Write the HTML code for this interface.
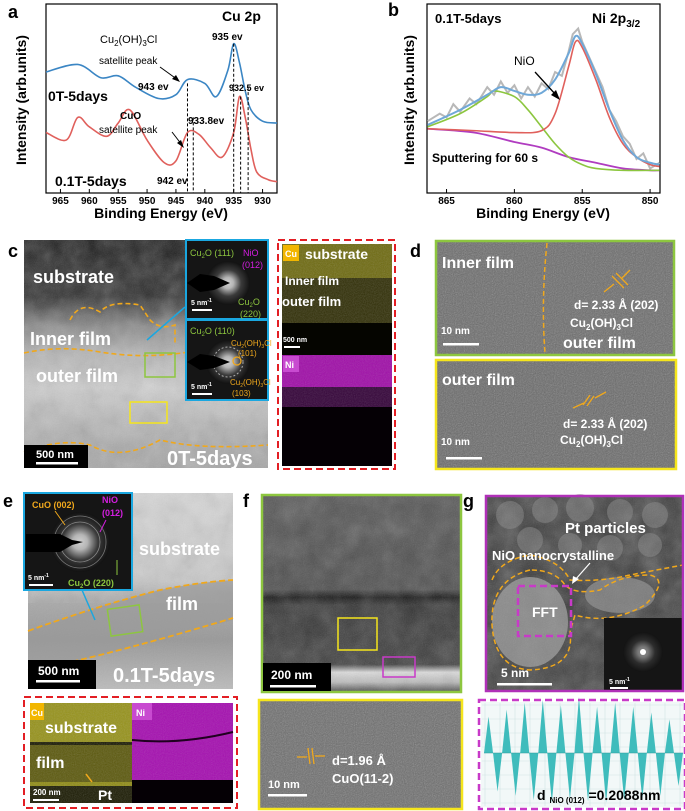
<!DOCTYPE html>
<html><head><meta charset="utf-8">
<style>
html,body{margin:0;padding:0;background:#fff;}
svg{display:block;font-family:"Liberation Sans",Arial,sans-serif;}
.b{font-weight:bold;}
</style></head>
<body>
<svg id="fig" width="685" height="811" viewBox="0 0 685 811" xmlns="http://www.w3.org/2000/svg">
<defs>
  <filter id="noise" x="0" y="0" width="100%" height="100%">
    <feTurbulence type="fractalNoise" baseFrequency="0.9" numOctaves="2" seed="3"/>
    <feColorMatrix type="saturate" values="0"/>
  </filter>
  <filter id="blotch" x="0" y="0" width="100%" height="100%">
    <feTurbulence type="fractalNoise" baseFrequency="0.05" numOctaves="3" seed="7"/>
    <feColorMatrix type="saturate" values="0"/>
  </filter>
  <radialGradient id="glow"><stop offset="0" stop-color="#fff"/><stop offset="0.25" stop-color="#ddd"/><stop offset="0.6" stop-color="#444"/><stop offset="1" stop-color="#111"/></radialGradient>
  <linearGradient id="cgrad" x1="0" y1="0" x2="0" y2="1">
    <stop offset="0" stop-color="#1a1a1a"/><stop offset="0.25" stop-color="#2a2a2a"/><stop offset="0.38" stop-color="#888"/><stop offset="0.5" stop-color="#b5b5b5"/><stop offset="0.65" stop-color="#cfcfcf"/><stop offset="0.85" stop-color="#b0b0b0"/><stop offset="1" stop-color="#a5a5a5"/>
  </linearGradient>
  <linearGradient id="egrad" x1="0" y1="0" x2="0" y2="1">
    <stop offset="0" stop-color="#d8d8d8"/><stop offset="0.45" stop-color="#c8c8c8"/><stop offset="0.55" stop-color="#aaa"/><stop offset="0.75" stop-color="#999"/><stop offset="1" stop-color="#bcbcbc"/>
  </linearGradient>
  <linearGradient id="fgrad" x1="0" y1="0" x2="0" y2="1">
    <stop offset="0" stop-color="#555"/><stop offset="0.48" stop-color="#4a4a4a"/><stop offset="0.52" stop-color="#111"/><stop offset="0.56" stop-color="#333"/><stop offset="0.86" stop-color="#3c3c3c"/><stop offset="0.9" stop-color="#ddd"/><stop offset="0.95" stop-color="#bbb"/><stop offset="1" stop-color="#444"/>
  </linearGradient>
</defs>

<!-- ===== Panel a ===== -->
<g id="panel-a">
  <text x="8" y="18" class="b" font-size="18">a</text>
  <rect x="46" y="4" width="231" height="189" fill="none" stroke="#000" stroke-width="1.2"/>
  <g id="a-ticks"></g>
  <g id="a-lines"></g>
  <text x="26" y="100" class="b" font-size="14" transform="rotate(-90 26 100)" text-anchor="middle">Intensity (arb.units)</text>
  <text x="161" y="218" class="b" font-size="14" text-anchor="middle">Binding Energy (eV)</text>
  <text x="222" y="21" class="b" font-size="14">Cu 2p</text>
  <text x="212" y="40" font-size="10" class="b">935 ev</text>
  <text x="100" y="43" font-size="11">Cu<tspan font-size="8" dy="3">2</tspan><tspan dy="-3">(OH)</tspan><tspan font-size="8" dy="3">3</tspan><tspan dy="-3">Cl</tspan></text>
  <text x="99" y="64" font-size="10">satellite peak</text>
  <text x="138" y="90" font-size="10" class="b">943 ev</text>
  <text x="229" y="91" font-size="9" class="b">932.5 ev</text>
  <text x="48" y="101" font-size="14" class="b">0T-5days</text>
  <text x="120" y="119" font-size="10" class="b">CuO</text>
  <text x="99" y="133" font-size="10">satellite peak</text>
  <text x="188" y="124" font-size="10" class="b">933.8ev</text>
  <text x="55" y="186" font-size="14" class="b">0.1T-5days</text>
  <text x="157" y="184" font-size="10" class="b">942 ev</text>
  <line x1="160" y1="67" x2="178" y2="80" stroke="#000" stroke-width="1"/>
  <polygon points="180,82 172,79 176,75" fill="#000"/>
  <line x1="172" y1="132" x2="182" y2="145" stroke="#000" stroke-width="1"/>
  <polygon points="184,148 177,143 181,140" fill="#000"/>
</g>

<!-- ===== Panel b ===== -->
<g id="panel-b">
  <text x="388" y="16" class="b" font-size="18">b</text>
  <rect x="427" y="4" width="233" height="189" fill="none" stroke="#000" stroke-width="1.2"/>
  <g id="b-ticks"></g>
  <g id="b-lines"></g>
  <text x="414" y="100" class="b" font-size="14" transform="rotate(-90 414 100)" text-anchor="middle">Intensity (arb.units)</text>
  <text x="543" y="218" class="b" font-size="14" text-anchor="middle">Binding Energy (eV)</text>
  <text x="435" y="23" class="b" font-size="13">0.1T-5days</text>
  <text x="592" y="23" class="b" font-size="14">Ni 2p<tspan font-size="10" dy="4">3/2</tspan></text>
  <text x="514" y="65" font-size="12">NiO</text>
  <line x1="535" y1="72" x2="556" y2="95" stroke="#000" stroke-width="1.3"/>
  <polygon points="560,100 551,95 556,90" fill="#000"/>
  <text x="432" y="162" font-size="12" class="b">Sputtering for 60 s</text>
</g>

<!-- ===== Panel c ===== -->
<g id="panel-c">
  <text x="8" y="257" class="b" font-size="18">c</text>
  <rect x="24" y="240" width="244" height="228" fill="url(#cgrad)"/>
  <rect x="24" y="240" width="244" height="228" filter="url(#blotch)" opacity="0.35"/>
  <rect x="24" y="240" width="244" height="228" filter="url(#noise)" opacity="0.15"/>
  <path d="M70,320 Q80,300 100,312 Q110,300 140,305 L150,320 Q160,330 175,325 L175,345" fill="none" stroke="#f0a81c" stroke-width="1.6" stroke-dasharray="5,3"/>
  <path d="M24,353 Q60,345 100,352 Q150,360 200,350 L268,352" fill="none" stroke="#f0a81c" stroke-width="1.6" stroke-dasharray="5,3"/>
  <path d="M24,452 Q60,438 90,445 Q120,462 160,440 Q200,450 268,445" fill="none" stroke="#f0a81c" stroke-width="1.6" stroke-dasharray="5,3"/>
  <text x="33" y="283" fill="#fff" class="b" font-size="18">substrate</text>
  <text x="30" y="345" fill="#fff" class="b" font-size="18">Inner film</text>
  <text x="36" y="382" fill="#fff" class="b" font-size="18">outer film</text>
  <rect x="145" y="353" width="30" height="24" fill="none" stroke="#8dc63f" stroke-width="1.5"/>
  <rect x="130" y="402" width="37" height="21" fill="none" stroke="#f5e51c" stroke-width="1.5"/>
  <line x1="147" y1="340" x2="185" y2="307" stroke="#1aa7e0" stroke-width="1.5"/>
  <rect x="24" y="445" width="64" height="23" fill="#000"/>
  <text x="36" y="458" fill="#fff" class="b" font-size="11">500 nm</text>
  <rect x="36" y="462" width="42" height="2.5" fill="#fff"/>
  <text x="167" y="465" fill="#fff" class="b" font-size="20">0T-5days</text>
  <g>
    <rect x="186" y="240" width="82" height="79" fill="#151515" stroke="#1aa7e0" stroke-width="2"/>
    <circle cx="228" cy="283" r="22" fill="url(#glow)" opacity="0.8"/>
    <polygon points="187,283 200,274 214,276 230,283 214,290 200,292" fill="#000"/>
    <text x="190" y="256" fill="#8dc63f" font-size="9">Cu<tspan font-size="6" dy="2">2</tspan><tspan dy="-2">O (111)</tspan></text>
    <text x="243" y="256" fill="#d41ee0" font-size="9">NiO</text>
    <text x="242" y="268" fill="#d41ee0" font-size="9">(012)</text>
    <text x="238" y="305" fill="#8dc63f" font-size="9">Cu<tspan font-size="6" dy="2">2</tspan><tspan dy="-2">O</tspan></text>
    <text x="240" y="317" fill="#8dc63f" font-size="9">(220)</text>
    <text x="191" y="305" fill="#fff" font-size="7" class="b">5 nm<tspan font-size="5" dy="-3">-1</tspan></text>
    <rect x="192" y="309" width="20" height="2" fill="#fff"/>
  </g>
  <g>
    <rect x="186" y="320" width="82" height="80" fill="#151515" stroke="#1aa7e0" stroke-width="2"/>
    <circle cx="228" cy="362" r="22" fill="url(#glow)" opacity="0.8"/>
    <circle cx="228" cy="362" r="15" fill="none" stroke="#aaa" stroke-dasharray="2,2"/>
    <polygon points="187,362 200,354 214,356 230,362 214,368 200,370" fill="#000"/>
    <circle cx="237" cy="361" r="4" fill="none" stroke="#f0a81c" stroke-width="1.3"/>
    <text x="190" y="334" fill="#8dc63f" font-size="9">Cu<tspan font-size="6" dy="2">2</tspan><tspan dy="-2">O (110)</tspan></text>
    <text x="231" y="346" fill="#f0a81c" font-size="8">Cu<tspan font-size="5" dy="2">2</tspan><tspan dy="-2">(OH)</tspan><tspan font-size="5" dy="2">3</tspan><tspan dy="-2">Cl</tspan></text>
    <text x="238" y="356" fill="#f0a81c" font-size="8">(101)</text>
    <text x="230" y="385" fill="#f0a81c" font-size="8">Cu<tspan font-size="5" dy="2">2</tspan><tspan dy="-2">(OH)</tspan><tspan font-size="5" dy="2">3</tspan><tspan dy="-2">Cl</tspan></text>
    <text x="232" y="396" fill="#f0a81c" font-size="8">(103)</text>
    <text x="191" y="389" fill="#fff" font-size="7" class="b">5 nm<tspan font-size="5" dy="-3">-1</tspan></text>
    <rect x="192" y="393" width="20" height="2" fill="#fff"/>
  </g>
  <g>
    <rect x="278" y="240" width="117" height="229" fill="none" stroke="#e31e24" stroke-width="2" stroke-dasharray="7,4"/>
    <rect x="282" y="244" width="110" height="111" fill="#1f1e04"/>
    <rect x="282" y="244" width="110" height="34" fill="#6e6a10"/>
    <rect x="282" y="278" width="110" height="45" fill="#302e06"/>
    <rect x="282" y="244" width="110" height="111" filter="url(#noise)" opacity="0.25"/>
    <rect x="282" y="323" width="110" height="32" fill="#050500"/>
    <rect x="283" y="245" width="16" height="16" fill="#f2b600"/>
    <text x="285" y="257" fill="#fff" font-size="9" class="b">Cu</text>
    <text x="305" y="259" fill="#fff" font-size="14" class="b">substrate</text>
    <text x="285" y="285" fill="#fff" font-size="12" class="b">Inner film</text>
    <text x="282" y="306" fill="#fff" font-size="13" class="b">outer film</text>
    <text x="283" y="342" fill="#fff" font-size="7" class="b">500 nm</text>
    <rect x="284" y="346" width="16" height="2" fill="#fff"/>
    <rect x="282" y="355" width="110" height="111" fill="#050005"/>
    <rect x="282" y="355" width="110" height="32" fill="#a010a8"/>
    <rect x="282" y="387" width="110" height="20" fill="#35053a"/>
    <rect x="282" y="355" width="110" height="52" filter="url(#noise)" opacity="0.2"/>
    <rect x="283" y="356" width="16" height="16" fill="#c84ad0"/>
    <text x="285" y="368" fill="#fff" font-size="9" class="b">Ni</text>
  </g>
</g>

<!-- ===== Panel d ===== -->
<g id="panel-d">
  <text x="410" y="257" class="b" font-size="18">d</text>
  <rect x="436" y="241" width="238" height="114" fill="#6a6a6a"/>
  <rect x="436" y="241" width="238" height="114" filter="url(#noise)" opacity="0.45"/>
  <rect x="436" y="241" width="238" height="114" fill="none" stroke="#8dc63f" stroke-width="2.5"/>
  <path d="M547,243 Q541,300 545,353" fill="none" stroke="#f0a81c" stroke-width="1.5" stroke-dasharray="5,3"/>
  <text x="442" y="268" fill="#fff" class="b" font-size="16">Inner film</text>
  <g stroke="#f0a81c" stroke-width="1.3"><line x1="612" y1="276" x2="624" y2="288"/><line x1="616" y1="273" x2="628" y2="285"/><line x1="630" y1="270" x2="622" y2="278"/><line x1="604" y1="292" x2="614" y2="284"/></g>
  <text x="574" y="309" fill="#fff" class="b" font-size="12">d= 2.33 Å (202)</text>
  <text x="570" y="327" fill="#fff" class="b" font-size="12">Cu<tspan font-size="8" dy="3">2</tspan><tspan dy="-3">(OH)</tspan><tspan font-size="8" dy="3">3</tspan><tspan dy="-3">Cl</tspan></text>
  <text x="441" y="334" fill="#fff" class="b" font-size="10">10 nm</text>
  <rect x="443" y="343" width="36" height="2.5" fill="#fff"/>
  <text x="563" y="348" fill="#fff" class="b" font-size="16">outer film</text>
  <rect x="436" y="360" width="240" height="109" fill="#686868"/>
  <rect x="436" y="360" width="240" height="109" filter="url(#noise)" opacity="0.45"/>
  <rect x="436" y="360" width="240" height="109" fill="none" stroke="#f5e51c" stroke-width="2.5"/>
  <text x="442" y="385" fill="#fff" class="b" font-size="16">outer film</text>
  <g stroke="#f0a81c" stroke-width="1.3"><line x1="583" y1="405" x2="590" y2="395"/><line x1="587" y1="406" x2="594" y2="396"/><line x1="573" y1="408" x2="584" y2="403"/><line x1="606" y1="392" x2="595" y2="398"/></g>
  <text x="563" y="428" fill="#fff" class="b" font-size="12">d= 2.33 Å (202)</text>
  <text x="560" y="444" fill="#fff" class="b" font-size="12">Cu<tspan font-size="8" dy="3">2</tspan><tspan dy="-3">(OH)</tspan><tspan font-size="8" dy="3">3</tspan><tspan dy="-3">Cl</tspan></text>
  <text x="441" y="445" fill="#fff" class="b" font-size="10">10 nm</text>
  <rect x="446" y="457" width="36" height="2.5" fill="#fff"/>
</g>

<!-- ===== Panel e ===== -->
<g id="panel-e">
  <text x="3" y="507" class="b" font-size="18">e</text>
  <rect x="28" y="493" width="205" height="196" fill="url(#egrad)"/>
  <rect x="28" y="493" width="205" height="110" filter="url(#blotch)" opacity="0.3"/>
  <rect x="28" y="493" width="205" height="196" filter="url(#noise)" opacity="0.12"/>
  <path d="M28,631 Q100,605 160,590 Q200,582 233,580 L233,620 Q160,640 100,655 Q60,665 28,670 Z" fill="#9a9a9a" opacity="0.7"/>
  <path d="M28,631 Q100,605 160,590 Q200,582 233,580" fill="none" stroke="#f0a81c" stroke-width="1.8" stroke-dasharray="6,3"/>
  <path d="M28,670 Q60,665 100,655 Q160,640 233,618" fill="none" stroke="#f0a81c" stroke-width="1.8" stroke-dasharray="6,3"/>
  <text x="139" y="555" fill="#fff" class="b" font-size="18">substrate</text>
  <text x="166" y="610" fill="#fff" class="b" font-size="18">film</text>
  <rect x="109" y="607" width="32" height="27" fill="none" stroke="#8dc63f" stroke-width="1.5" transform="rotate(-8 125 620)"/>
  <line x1="82" y1="590" x2="95" y2="620" stroke="#1aa7e0" stroke-width="1.5"/>
  <rect x="28" y="660" width="68" height="29" fill="#000"/>
  <text x="38" y="675" fill="#fff" class="b" font-size="12">500 nm</text>
  <rect x="36" y="680" width="44" height="2.5" fill="#fff"/>
  <text x="113" y="682" fill="#fff" class="b" font-size="20">0.1T-5days</text>
  <g>
    <rect x="24" y="493" width="108" height="97" fill="#151515" stroke="#1aa7e0" stroke-width="2"/>
    <circle cx="80" cy="542" r="30" fill="url(#glow)" opacity="0.8"/>
    <circle cx="80" cy="542" r="20" fill="none" stroke="#888" stroke-width="0.8"/>
    <circle cx="80" cy="542" r="26" fill="none" stroke="#777" stroke-width="0.8"/>
    <polygon points="26,534 60,534 72,540 83,542 72,545 60,552 26,552" fill="#000"/>
    <text x="32" y="508" fill="#f0a81c" font-size="9" class="b">CuO (002)</text>
    <line x1="55" y1="511" x2="65" y2="525" stroke="#f0a81c" stroke-width="1"/>
    <text x="102" y="503" fill="#d41ee0" font-size="9" class="b">NiO</text>
    <text x="102" y="516" fill="#d41ee0" font-size="9" class="b">(012)</text>
    <line x1="106" y1="520" x2="100" y2="532" stroke="#d41ee0" stroke-width="1"/>
    <text x="68" y="586" fill="#8dc63f" font-size="9" class="b">Cu<tspan font-size="6" dy="2">2</tspan><tspan dy="-2">O (220)</tspan></text>
    <line x1="117" y1="560" x2="117" y2="575" stroke="#8dc63f" stroke-width="1"/>
    <text x="28" y="580" fill="#fff" font-size="7" class="b">5 nm<tspan font-size="5" dy="-3">-1</tspan></text>
    <rect x="29" y="584" width="24" height="2" fill="#fff"/>
  </g>
  <g>
    <rect x="24" y="697" width="213" height="111" fill="none" stroke="#e31e24" stroke-width="2" stroke-dasharray="7,4"/>
    <rect x="30" y="703" width="102" height="100" fill="#1a1a02"/>
    <rect x="30" y="703" width="102" height="39" fill="#96921a"/>
    <rect x="30" y="745" width="102" height="37" fill="#5b580c"/>
    <rect x="30" y="782" width="102" height="4" fill="#8f8b14"/>
    <rect x="30" y="703" width="102" height="100" filter="url(#noise)" opacity="0.25"/>
    <rect x="30" y="703" width="14" height="17" fill="#f2b600"/>
    <text x="31" y="716" fill="#fff" font-size="9" class="b">Cu</text>
    <text x="45" y="733" fill="#fff" class="b" font-size="16">substrate</text>
    <text x="36" y="768" fill="#fff" class="b" font-size="16">film</text>
    <text x="33" y="795" fill="#fff" class="b" font-size="8">200 nm</text>
    <rect x="33" y="799" width="26" height="2" fill="#fff"/>
    <line x1="92" y1="782" x2="86" y2="774" stroke="#f0a81c" stroke-width="1.5"/>
    <text x="98" y="800" fill="#fff" class="b" font-size="14">Pt</text>
    <rect x="132" y="703" width="101" height="100" fill="#050005"/>
    <rect x="132" y="703" width="101" height="77" fill="#a510b0"/>
    <rect x="132" y="703" width="101" height="77" filter="url(#noise)" opacity="0.2"/>
    <path d="M132,740 Q180,745 233,732" fill="none" stroke="#200020" stroke-width="2"/>
    <rect x="132" y="703" width="20" height="17" fill="#c84ad0"/>
    <text x="136" y="716" fill="#fff" font-size="9" class="b">Ni</text>
  </g>
</g>

<!-- ===== Panel f ===== -->
<g id="panel-f">
  <text x="243" y="507" class="b" font-size="18">f</text>
  <rect x="262" y="495" width="199" height="197" fill="url(#fgrad)"/>
  <rect x="262" y="495" width="199" height="197" filter="url(#blotch)" opacity="0.25"/>
  <rect x="262" y="495" width="199" height="197" filter="url(#noise)" opacity="0.18"/>
  <rect x="262" y="495" width="199" height="197" fill="none" stroke="#8dc63f" stroke-width="2.5"/>
  <rect x="338" y="618" width="39" height="32" fill="none" stroke="#f5e51c" stroke-width="1.5"/>
  <rect x="383" y="657" width="32" height="20" fill="none" stroke="#c83ac8" stroke-width="1.5"/>
  <rect x="263" y="663" width="68" height="28" fill="#000"/>
  <text x="271" y="679" fill="#fff" class="b" font-size="12">200 nm</text>
  <rect x="270" y="685" width="46" height="2.5" fill="#fff"/>
  <rect x="259" y="700" width="203" height="109" fill="#6c6c6c"/>
  <rect x="259" y="700" width="203" height="109" filter="url(#noise)" opacity="0.45"/>
  <rect x="259" y="700" width="203" height="109" fill="none" stroke="#f5e51c" stroke-width="2.5"/>
  <g stroke="#f0a81c" stroke-width="1.3"><line x1="308" y1="748" x2="310" y2="764"/><line x1="312" y1="748" x2="314" y2="764"/><line x1="297" y1="757" x2="307" y2="757"/><line x1="315" y1="756" x2="325" y2="756"/></g>
  <text x="332" y="765" fill="#fff" class="b" font-size="13">d=1.96 Å</text>
  <text x="332" y="783" fill="#fff" class="b" font-size="13">CuO(11-2)</text>
  <text x="268" y="788" fill="#fff" class="b" font-size="11">10 nm</text>
  <rect x="268" y="794" width="39" height="2.5" fill="#fff"/>
</g>

<!-- ===== Panel g ===== -->
<g id="panel-g">
  <text x="463" y="507" class="b" font-size="18">g</text>
  <rect x="486" y="496" width="197" height="195" fill="#3d3d3d"/>
  <rect x="486" y="496" width="197" height="195" filter="url(#blotch)" opacity="0.35"/>
  <g fill="#8a8a8a" opacity="0.5"><circle cx="510" cy="515" r="14"/><circle cx="545" cy="510" r="13"/><circle cx="580" cy="508" r="14"/><circle cx="620" cy="512" r="13"/><circle cx="655" cy="515" r="13"/><circle cx="530" cy="540" r="13"/><circle cx="570" cy="545" r="12"/><circle cx="610" cy="548" r="13"/><circle cx="650" cy="545" r="12"/></g>
  <ellipse cx="530" cy="622" rx="38" ry="45" fill="#9a9a9a" opacity="0.8"/>
  <ellipse cx="620" cy="595" rx="35" ry="18" fill="#8a8a8a" opacity="0.8"/>
  <rect x="486" y="496" width="197" height="195" filter="url(#noise)" opacity="0.15"/>
  <path d="M492,580 Q500,560 530,555 Q560,560 570,580 Q600,582 630,575 L683,565" fill="none" stroke="#f0a81c" stroke-width="1.5" stroke-dasharray="5,3"/>
  <path d="M530,570 Q490,580 492,625 Q495,668 530,670 Q575,668 570,632 L575,615 Q610,625 645,605 Q670,580 650,575 Q620,575 600,590 Q575,595 565,585 Q555,570 530,570" fill="none" stroke="#f0a81c" stroke-width="1.5" stroke-dasharray="5,3"/>
  <rect x="518" y="586" width="53" height="50" fill="none" stroke="#c83ac8" stroke-width="2.5" stroke-dasharray="7,4"/>
  <text x="532" y="617" fill="#fff" class="b" font-size="14">FFT</text>
  <text x="565" y="533" fill="#fff" class="b" font-size="15">Pt particles</text>
  <text x="492" y="560" fill="#fff" class="b" font-size="13">NiO nanocrystalline</text>
  <line x1="590" y1="563" x2="575" y2="580" stroke="#fff" stroke-width="1.2"/>
  <polygon points="572,584 573,576 579,579" fill="#fff"/>
  <rect x="604" y="618" width="78" height="72" fill="#151515"/>
  <circle cx="643" cy="652" r="20" fill="url(#glow)" opacity="0.5"/>
  <circle cx="643" cy="652" r="3" fill="#fff"/>
  <text x="609" y="684" fill="#fff" font-size="7" class="b">5 nm<tspan font-size="5" dy="-3">-1</tspan></text>
  <rect x="610" y="687" width="18" height="2" fill="#fff"/>
  <text x="501" y="677" fill="#fff" class="b" font-size="12">5 nm</text>
  <rect x="497" y="683" width="55" height="2.5" fill="#fff"/>
  <rect x="486" y="496" width="197" height="195" fill="none" stroke="#b030b8" stroke-width="2.5"/>
  <rect x="481" y="702" width="203" height="105" fill="#f2f8f8"/>
  <g id="g-grid" stroke="#cfe3e3" stroke-width="0.6"></g>
  <g id="g-profile"></g>
  <rect x="479" y="700" width="206" height="109" fill="none" stroke="#c83ac8" stroke-width="2.5" stroke-dasharray="7,4"/>
  <text x="537" y="800" class="b" font-size="14">d <tspan font-size="8" dy="3">NiO  (012)</tspan><tspan dy="-3"> =0.2088nm</tspan></text>
</g>
</svg>

<script>
// ---------- Panel a data ----------
const aTicks = [965, 960, 955, 950, 945, 940, 935, 930];
const aBlueE = [967.5, 962, 958, 955, 952, 948, 945, 943, 940, 938, 936, 935, 934, 933, 932, 930, 927.5];
const aBlueV = [64, 68, 61, 62, 56, 50, 52, 60, 58, 51, 65, 79, 69, 54, 44, 38, 37];
const aRedE = [967.5, 964, 962, 960, 957, 955, 953, 950, 947, 945, 943, 941, 939, 937, 935, 934, 933, 932, 931, 929, 927.5];
const aRedV = [32, 28, 40, 35, 30, 37, 44, 28, 16, 17, 32, 31, 24, 19, 32, 51, 40, 23, 11, 7, 6];
const aDashE = [943, 942, 935, 933.8, 932.5];
const aDashTop = [58, 40, 79, 51, 56];
// ---------- Panel b data ----------
const bTicks = [865, 860, 855, 850];
const bGrayE = [866.4, 865.5, 865, 864.5, 864, 863.3, 862.8, 862, 861.5, 861, 860.5, 860, 859.5, 859, 858.5, 858, 857.5, 857, 856.5, 856, 855.7, 855.3, 855, 854.5, 854, 853.5, 853, 852.5, 852, 851.5, 851, 850.5, 850, 849.3];
const bGrayV = [38, 42, 40, 47, 43, 50, 47, 56, 52, 59, 53, 57, 50, 56, 51, 58, 55, 64, 62, 75, 84, 87, 80, 72, 64, 56, 44, 38, 30, 26, 18, 21, 13, 16];
const bBlueE = [866.4, 864, 862, 861, 860, 859, 858, 857, 856, 855.5, 855, 854, 853, 852, 851, 850, 849.3];
const bBlueV = [36, 44, 52, 56, 54, 52, 53, 60, 74, 83, 79, 63, 44, 28, 19, 16, 15];
const bRedE = [866.4, 863, 860, 858, 857, 856, 855.5, 855, 854, 853, 852, 851, 850, 849.3];
const bRedV = [34, 33, 32, 33, 42, 67, 80, 77, 60, 40, 26, 19, 15, 14];
const bGreenE = [866.4, 864, 862, 861.5, 860, 859, 858, 857, 856, 855, 854, 852, 849.3];
const bGreenV = [35, 42, 51, 54, 51, 44, 35, 26, 19, 15, 13, 12, 12];
const bBgE = [866.4, 863, 860, 858, 856, 854, 852, 850, 849.3];
const bBgV = [34, 32, 27, 24, 19, 16, 13, 12, 12];
// ---------- Panel g profile data ----------
const gPeaks = [52, 62, 72, 76, 68, 80, 66, 72, 66, 58, 48];
const gTroughs = [70, 78, 86, 90, 84, 88, 90, 86, 84, 78, 60];

const NS = 'http://www.w3.org/2000/svg';
function mk(tag, attrs, parent) {
  const el = document.createElementNS(NS, tag);
  for (const k in attrs) el.setAttribute(k, attrs[k]);
  parent.appendChild(el);
  return el;
}
function smooth(pts) {
  let d = 'M' + pts[0][0] + ',' + pts[0][1];
  for (let i = 0; i < pts.length - 1; i++) {
    const p0 = pts[Math.max(0, i - 1)], p1 = pts[i], p2 = pts[i + 1], p3 = pts[Math.min(pts.length - 1, i + 2)];
    const c1x = p1[0] + (p2[0] - p0[0]) / 6, c1y = p1[1] + (p2[1] - p0[1]) / 6;
    const c2x = p2[0] - (p3[0] - p1[0]) / 6, c2y = p2[1] - (p3[1] - p1[1]) / 6;
    d += ' C' + c1x + ',' + c1y + ' ' + c2x + ',' + c2y + ' ' + p2[0] + ',' + p2[1];
  }
  return d;
}
const xA = e => 46 + (967.5 - e) * 5.775;
const yA = v => 193 - v * 1.89;
const xB = e => 427 + (866.44 - e) * 13.57;
const yB = v => 193 - v * 1.89;

const aT = document.getElementById('a-ticks');
aTicks.forEach(t => {
  const l = mk('line', {x1: xA(t), x2: xA(t), y1: 193, y2: 189, stroke: '#000'}, aT);
  
  
  const tx = mk('text', {x: xA(t), y: 204, 'text-anchor': 'middle', 'font-size': 10, 'font-weight': 'bold'}, aT);
  
  
  tx.textContent = t;
});
const aL = document.getElementById('a-lines');
const blueA = mk('path', {d: smooth(aBlueE.map((e, i) => [xA(e), yA(aBlueV[i])])), fill: 'none', stroke: '#3b86c4', 'stroke-width': 1.6}, aL);


const redA = mk('path', {d: smooth(aRedE.map((e, i) => [xA(e), yA(aRedV[i])])), fill: 'none', stroke: '#e0605c', 'stroke-width': 1.6}, aL);


aDashE.forEach((e, i) => {
  const dl = mk('line', {x1: xA(e), x2: xA(e), y1: yA(aDashTop[i]), y2: 193, stroke: '#000', 'stroke-dasharray': '3,2', 'stroke-width': 1}, aL);
  
  
});

const bT = document.getElementById('b-ticks');
bTicks.forEach(t => {
  const l = mk('line', {x1: xB(t), x2: xB(t), y1: 193, y2: 189, stroke: '#000'}, bT);
  
  
  const tx = mk('text', {x: xB(t), y: 204, 'text-anchor': 'middle', 'font-size': 10, 'font-weight': 'bold'}, bT);
  
  
  tx.textContent = t;
});
const bL = document.getElementById('b-lines');
const series = [
  [bGrayE, bGrayV, '#b8b8b8', 2, 'series-raw-data', false],
  [bBgE, bBgV, '#b03cc0', 1.8, 'series-background', true],
  [bGreenE, bGreenV, '#8cc63f', 1.6, 'series-satellite-fit', true],
  [bRedE, bRedV, '#e0605c', 1.6, 'series-nio-fit', true],
  [bBlueE, bBlueV, '#6fa8d8', 2, 'series-envelope', true]
];
series.forEach(s => {
  const pts = s[0].map((e, i) => [xB(e), yB(s[1][i])]);
  const p = mk('path', {d: s[5] ? smooth(pts) : 'M' + pts.map(q => q.join(',')).join(' L'), fill: 'none', stroke: s[2], 'stroke-width': s[3]}, bL);
  
  
});

const gG = document.getElementById('g-grid');
for (let i = 0; i < 14; i++) mk('line', {x1: 485 + i * 15, x2: 485 + i * 15, y1: 703, y2: 806}, gG);
for (let i = 0; i < 8; i++) mk('line', {x1: 482, x2: 683, y1: 705 + i * 14, y2: 705 + i * 14}, gG);
const gP = document.getElementById('g-profile');
const gx0 = 484, gx1 = 683, gMid = 753;
const gStep = (gx1 - gx0) / gPeaks.length;
const gHalf = gStep * 0.25;
const gy = v => gMid - v * 0.7;
const gyd = v => gMid + v * 0.55;
gPeaks.forEach((v, i) => {
  const cx = gx0 + gStep * (i + 0.25);
  const up = mk('polygon', {points: (cx - gHalf) + ',' + gMid + ' ' + cx + ',' + gy(v) + ' ' + (cx + gHalf) + ',' + gMid, fill: '#3fbcbc'}, gP);
  
  
  const dx = gx0 + gStep * (i + 0.75);
  const dn = mk('polygon', {points: (dx - gHalf) + ',' + gMid + ' ' + dx + ',' + gyd(gTroughs[i]) + ' ' + (dx + gHalf) + ',' + gMid, fill: '#3fbcbc'}, gP);
  
  
});
mk('line', {x1: gx0, x2: gx1, y1: gMid, y2: gMid, stroke: '#2a9a9a', 'stroke-width': 0.6}, gP);
</script>
</body></html>
